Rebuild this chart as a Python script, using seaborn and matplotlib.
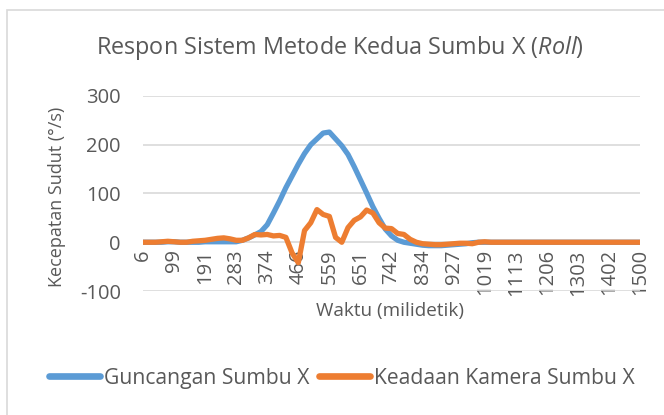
import matplotlib
matplotlib.use("Agg")
import matplotlib.pyplot as plt
import seaborn as sns
import pandas as pd
import numpy as np
from matplotlib.patches import Rectangle


# label waktu (milidetik) yang tampil di sumbu X, tiap 5 sampel
tick_labels = ['6', '99', '191', '283', '374', '466', '559', '651', '742', '834',
               '927', '1019', '1113', '1206', '1303', '1402', '1500']

guncangan = [0, 0, 0, 0, 1, 1, 0, 0, 0, 0, 1, 1, 1, 1, 1, 1, 4, 9, 15, 22,
             36, 60, 85, 112, 136, 160, 182, 200, 212, 224, 226, 212, 198, 180, 155, 128, 101, 73, 49, 27,
             13, 4, 0, -2, -4, -6, -7, -7, -7, -6, -5, -4, -3, -1, 0, 0, 0, 0, 0, 0,
             0, 0, 0, 0, 0, 0, 0, 0, 0, 0, 0, 0, 0, 0, 0, 0, 0, 0, 0, 0, 0]

kamera = [0, 0, 0, 1, 2, 1, 0, 0, 2, 3, 4, 6, 8, 9, 7, 4, 4, 9, 16, 15,
          16, 13, 14, 10, -22, -42, 24, 40, 67, 57, 53, 10, 0, 30, 45, 52, 66, 60, 40, 29,
          28, 18, 16, 6, 0, -3, -4, -5, -5, -4, -3, -2, -2, -3, 0, 1, 0, 0, 0, 0,
          0, 0, 0, 0, 0, 0, 0, 0, 0, 0, 0, 0, 0, 0, 0, 0, 0, 0, 0, 0, 0]

nama_seri = ['Guncangan Sumbu X', 'Keadaan Kamera Sumbu X']
warna = ['#5b9bd5', '#ed7d31']
teks = '#595959'

idx = np.arange(len(guncangan))
df = pd.DataFrame({
    'idx': np.concatenate([idx, idx]),
    'nilai': guncangan + kamera,
    'seri': [nama_seri[0]] * len(guncangan) + [nama_seri[1]] * len(kamera),
})

sns.set_theme(style='white')
plt.rcParams['font.family'] = ['Open Sans', 'DejaVu Sans']
plt.rcParams['axes.unicode_minus'] = False
plt.rcParams['mathtext.fontset'] = 'custom'
plt.rcParams['mathtext.rm'] = 'Open Sans'
plt.rcParams['mathtext.it'] = 'Open Sans:italic'

W, H = 664, 415
fig = plt.figure(figsize=(W / 100, H / 100), dpi=100)
ax = fig.add_axes([143 / W, 1 - 291 / H, (640 - 143) / W, (291 - 96) / H])

sns.lineplot(data=df, x='idx', y='nilai', hue='seri', palette=warna, linewidth=3.8, ax=ax)
for ln in ax.lines:
    ln.set_solid_capstyle('round')
    ln.set_solid_joinstyle('round')

ax.set_xlim(0, len(guncangan) - 1)
ax.set_ylim(-100, 300)
ax.set_yticks([-100, 0, 100, 200, 300])
ax.yaxis.grid(True, color='#d9d9d9', linewidth=1.2)
ax.set_axisbelow(True)
for s in ['top', 'right', 'left']:
    ax.spines[s].set_visible(False)
ax.spines['bottom'].set_position(('data', 0))
ax.spines['bottom'].set_color('none')

ax.set_xticks(idx[::5])
ax.set_xticklabels(tick_labels, rotation=90)
ax.tick_params(axis='x', length=0, pad=5, labelsize=14.5, labelcolor=teks)
ax.tick_params(axis='y', length=0, pad=16, labelsize=14.5, labelcolor=teks)
ax.set_xlabel('')
ax.set_ylabel('')

fig.text(340 / W, 1 - 48 / H, r'Respon Sistem Metode Kedua Sumbu X ($\mathit{Roll}$)',
         ha='center', va='center', fontsize=16.8, color=teks)
fig.text(57 / W, 1 - 197 / H, 'Kecepatan Sudut (°/s)', rotation=90,
         ha='center', va='center', fontsize=13, color=teks)
fig.text(390 / W, 1 - 311 / H, 'Waktu (milidetik)', ha='center', va='center',
         fontsize=13.6, color=teks)

sns.move_legend(ax, 'center', bbox_to_anchor=(342 / W, 1 - 378 / H),
                bbox_transform=fig.transFigure, ncol=2, frameon=False, title=None,
                fontsize=15.2, handlelength=2.4, handletextpad=0.2, columnspacing=0.45,
                labelcolor=teks)
for h in ax.get_legend().get_lines():
    h.set_linewidth(4.8)
    h.set_solid_capstyle('round')

fig.add_artist(Rectangle((7 / W, -0.1), 1.2, 1.1 - 10 / H, transform=fig.transFigure,
                         fill=False, edgecolor='#d9d9d9', linewidth=1.2))

fig.savefig('out.png', dpi=100)
